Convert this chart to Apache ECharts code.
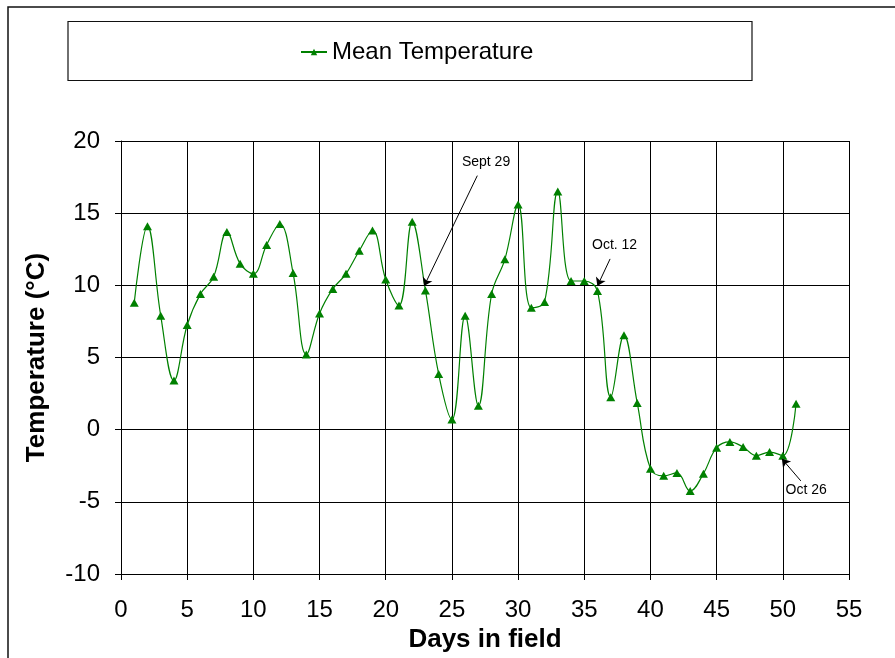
<!DOCTYPE html>
<html>
<head>
<meta charset="utf-8">
<script src="https://cdn.jsdelivr.net/npm/echarts@6/dist/echarts.min.js"></script>
<style>
  html, body { margin: 0; padding: 0; background: #fff; }
  #chart { width: 895px; height: 658px; }
</style>
</head>
<body>
<div id="chart"></div>
<script>
// Daily mean temperature over the field exposure period
const days = [1, 2, 3, 4, 5, 6, 7, 8, 9, 10, 11, 12, 13, 14, 15, 16, 17, 18, 19, 20,
  21, 22, 23, 24, 25, 26, 27, 28, 29, 30, 31, 32, 33, 34, 35, 36, 37, 38, 39, 40,
  41, 42, 43, 44, 45, 46, 47, 48, 49, 50, 51];
const meanTemp = [8.8, 14.1, 7.9, 3.4, 7.25, 9.4, 10.6, 13.7, 11.5, 10.8,
  12.8, 14.25, 10.85, 5.2, 8.05, 9.75, 10.8, 12.4, 13.8, 10.4,
  8.6, 14.4, 9.65, 3.85, 0.7, 7.9, 1.65, 9.4, 11.8, 15.6,
  8.45, 8.85, 16.5, 10.3, 10.3, 9.6, 2.25, 6.55, 1.85, -2.7,
  -3.2, -3.0, -4.25, -3.05, -1.25, -0.85, -1.2, -1.8, -1.55, -1.8, 1.8];
const xTicks = [0, 5, 10, 15, 20, 25, 30, 35, 40, 45, 50, 55];
const yTicks = [-10, -5, 0, 5, 10, 15, 20];

// Date call-outs: label text, label anchor, arrow tail and arrow head (axis units)
const calloutText = ['Sept 29', 'Oct. 12', 'Oct 26'];
const calloutLabelAt = [[27.58, 18.52], [37.29, 12.79], [51.76, -4.17]];
const calloutTail = [[26.92, 17.6], [36.95, 11.83], [51.36, -3.55]];
const calloutHead = [[22.9, 9.95], [35.99, 9.95], [49.93, -2.02]];

const FONT = "'Liberation Sans', Arial, sans-serif";
const GREEN = '#008000';

const chart = echarts.init(document.getElementById('chart'), null, { renderer: 'canvas' });

const series = [{
  name: 'Mean Temperature',
  type: 'line',
  data: days.map((d, i) => [d, meanTemp[i]]),
  smooth: 0.4,
  symbol: 'triangle',
  symbolSize: [9, 8],
  showAllSymbol: true,
  lineStyle: { color: GREEN, width: 1.2 },
  itemStyle: { color: GREEN },
  emphasis: { disabled: true },
  z: 3,
  markLine: {
    silent: true,
    animation: false,
    symbol: ['none', 'arrow'],
    symbolSize: [0, 8],
    lineStyle: { color: '#000', width: 1, type: 'solid' },
    label: { show: false },
    emphasis: { disabled: true },
    data: calloutTail.map((t, i) => [
      { coord: t, symbol: 'none' },
      { coord: calloutHead[i], symbol: 'arrow', symbolSize: 8 }
    ])
  },
  markPoint: {
    silent: true,
    animation: false,
    symbol: 'circle',
    symbolSize: 0,
    itemStyle: { color: 'transparent' },
    label: {
      show: true,
      position: 'inside',
      color: '#000',
      fontFamily: FONT,
      fontSize: 14,
      formatter: p => p.name
    },
    data: calloutText.map((t, i) => ({ name: t, coord: calloutLabelAt[i] }))
  }
}];

chart.setOption({
  animation: false,
  backgroundColor: '#fff',
  textStyle: { fontFamily: FONT },
  graphic: [
    {
      type: 'rect',
      shape: { x: 8, y: 7, width: 900, height: 700 },
      style: { fill: 'none', stroke: '#111', lineWidth: 1.5 },
      silent: true, z: -1
    },
    {
      type: 'rect',
      shape: { x: 68, y: 21.5, width: 684, height: 59 },
      style: { fill: 'none', stroke: '#111', lineWidth: 1.2 },
      silent: true, z: -1
    }
  ],
  legend: {
    left: 295,
    top: 35,
    itemWidth: 26,
    itemHeight: 8,
    itemGap: 10,
    textStyle: { fontFamily: FONT, fontSize: 24, color: '#000' },
    data: ['Mean Temperature']
  },
  grid: { left: 121, right: 46, top: 141, bottom: 80, containLabel: false },
  xAxis: {
    type: 'value',
    min: xTicks[0],
    max: xTicks[xTicks.length - 1],
    interval: 5,
    name: 'Days in field',
    nameLocation: 'middle',
    nameGap: 53,
    nameTextStyle: { fontFamily: FONT, fontSize: 26, fontWeight: 'bold', color: '#000' },
    axisLine: { show: true, onZero: false, lineStyle: { color: '#000', width: 1 } },
    axisTick: { show: true, inside: false, length: 6, lineStyle: { color: '#000' } },
    axisLabel: { fontFamily: FONT, fontSize: 24, color: '#000', margin: 24 },
    splitLine: { show: true, lineStyle: { color: '#000', width: 1 } }
  },
  yAxis: {
    type: 'value',
    min: yTicks[0],
    max: yTicks[yTicks.length - 1],
    interval: 5,
    name: 'Temperature (°C)',
    nameLocation: 'middle',
    nameGap: 71,
    nameTextStyle: { fontFamily: FONT, fontSize: 26, fontWeight: 'bold', color: '#000' },
    axisLine: { show: true, lineStyle: { color: '#000', width: 1 } },
    axisTick: { show: true, inside: false, length: 6, lineStyle: { color: '#000' } },
    axisLabel: { fontFamily: FONT, fontSize: 24, color: '#000', margin: 21 },
    splitLine: { show: true, lineStyle: { color: '#000', width: 1 } }
  },
  series: series
});
</script>
</body>
</html>
